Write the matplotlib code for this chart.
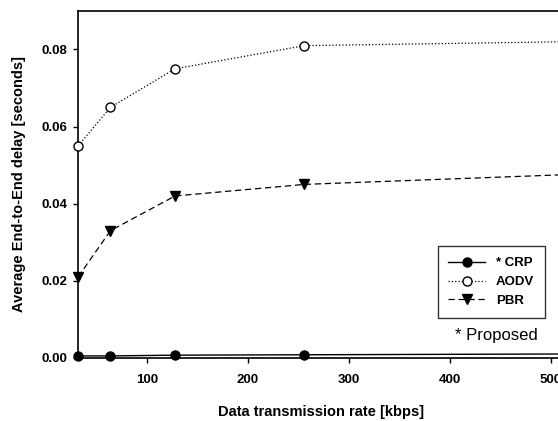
import matplotlib.pyplot as plt

plt.rcParams["font.family"] = ["Liberation Sans", "DejaVu Sans"]

rate = [32, 64, 128, 256, 512]
crp = [0.0005, 0.0005, 0.0007, 0.0008, 0.0010]
aodv = [0.055, 0.065, 0.075, 0.081, 0.082]
pbr = [0.021, 0.033, 0.042, 0.045, 0.0475]

fig = plt.figure(figsize=(5.58, 4.21), dpi=100)
ax = fig.add_axes([0.140, 0.150, 0.869, 0.824])

ax.plot(rate, crp, "-", color="black", lw=1.0, marker="o", ms=6.5,
        mfc="black", mec="black", label="* CRP", clip_on=False, zorder=5)
ax.plot(rate, aodv, ":", color="black", lw=0.9, marker="o", ms=6.5,
        mfc="white", mec="black", label="AODV", clip_on=False, zorder=5)
ax.plot(rate, pbr, "--", color="black", lw=0.9, dashes=(5, 3), marker="v",
        ms=6.5, mfc="black", mec="black", label="PBR", clip_on=False, zorder=5)

ax.set_xlim(32, 512)
ax.set_ylim(0, 0.09)
ax.set_xticks([100, 200, 300, 400, 500])
ax.set_yticks([0.0, 0.02, 0.04, 0.06, 0.08])
ax.set_yticklabels(["0.00", "0.02", "0.04", "0.06", "0.08"])
ax.tick_params(direction="out", length=3.5, width=1, labelsize=9.5)
ax.tick_params(axis="x", pad=8)
ax.tick_params(axis="y", pad=4)
for lbl in ax.get_xticklabels() + ax.get_yticklabels():
    lbl.set_fontweight("bold")
for s in ax.spines.values():
    s.set_linewidth(1.2)

ax.set_xlabel("Data transmission rate [kbps]", fontsize=10.5, fontweight="bold", labelpad=14)
ax.set_ylabel("Average End-to-End delay [seconds]", fontsize=10.5, fontweight="bold", labelpad=11)

leg = ax.legend(loc="upper left", bbox_to_anchor=(0.728, 0.34), frameon=True,
                fancybox=False, edgecolor="black", fontsize=9.5, handlelength=2.8,
                labelspacing=0.5, borderpad=0.8)
leg.get_frame().set_linewidth(1.0)
for t in leg.get_texts():
    t.set_fontweight("bold")

ax.text(0.777, 0.063, "* Proposed", transform=ax.transAxes, fontsize=12, va="center")

fig.savefig("out.png", dpi=100)
